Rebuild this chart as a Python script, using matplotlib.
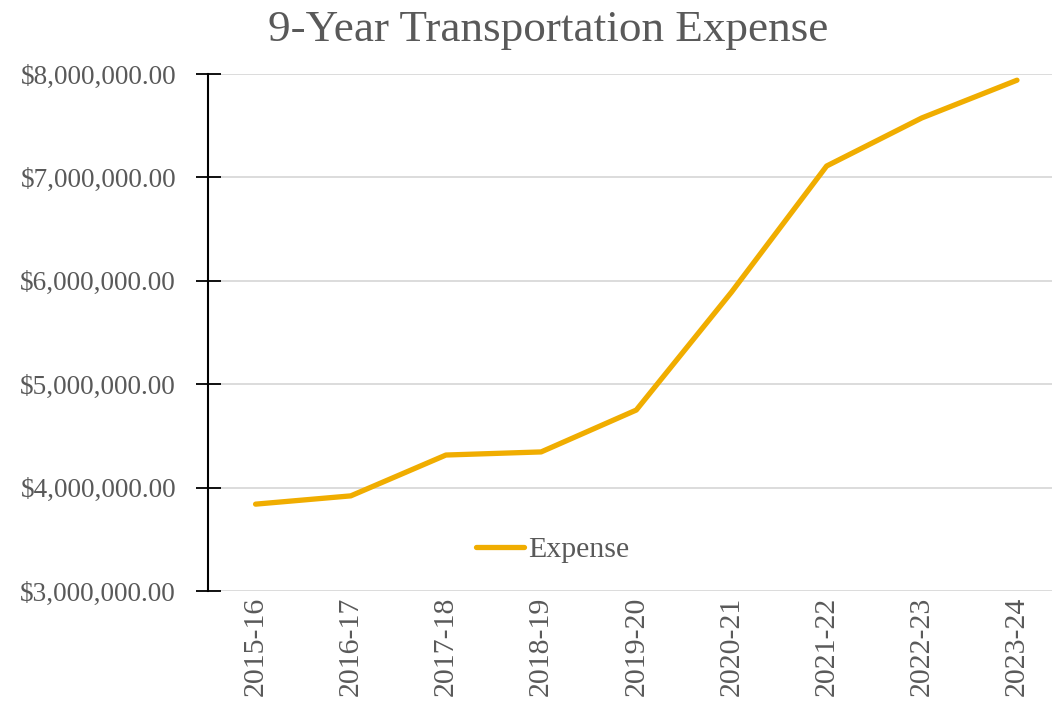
import matplotlib
matplotlib.use("Agg")
import matplotlib.pyplot as plt
from matplotlib.ticker import FuncFormatter

years = ["2015-16", "2016-17", "2017-18", "2018-19", "2019-20",
         "2020-21", "2021-22", "2022-23", "2023-24"]
expense = [3840000, 3920000, 4315000, 4345000, 4750000,
           5890000, 7110000, 7575000, 7940000]

plt.rcParams['font.family'] = ['Liberation Serif', 'DejaVu Serif']
txt = '#595959'

fig = plt.figure(figsize=(10.52, 7.06), dpi=100)
W, H = 1052, 706
ax = fig.add_axes([208 / W, 1 - 591 / H, (1052 - 208) / W, (591 - 74) / H])

x = list(range(len(years)))
ax.plot(x, expense, color='#F0AD00', lw=3.8, solid_capstyle='round',
        solid_joinstyle='round', label='Expense', zorder=3)

ax.set_ylim(3000000, 8000000)
ax.set_yticks([3000000, 4000000, 5000000, 6000000, 7000000, 8000000])
ax.yaxis.set_major_formatter(FuncFormatter(lambda v, p: f"${v:,.2f}"))
ax.set_xlim(-0.5, 8 + (1052 - 1017) / 95.1)
ax.set_xticks(x)
ax.set_xticklabels(years, rotation=90)

ax.grid(axis='y', color='#D9D9D9', lw=1.3)
ax.set_axisbelow(True)
for s in ['top', 'right', 'bottom']:
    ax.spines[s].set_visible(False)
ax.spines['left'].set_color('black')
ax.spines['left'].set_linewidth(1.5)
ax.tick_params(axis='y', direction='inout', length=18, width=1.3, color='black',
               labelsize=19.6, labelcolor=txt, pad=14)
ax.tick_params(axis='x', length=0, labelsize=21.5, labelcolor=txt, pad=4)

fig.text(548 / W, 1 - 30 / H, "9-Year Transportation Expense", fontsize=32.5,
         color=txt, ha='center', va='center')

ax.legend(loc='center', bbox_to_anchor=((553 - 208) / 844, (591 - 550) / 517),
          frameon=False, fontsize=21.5, labelcolor=txt, handlelength=1.6,
          handletextpad=0.15)

fig.savefig("out.png", dpi=100)
